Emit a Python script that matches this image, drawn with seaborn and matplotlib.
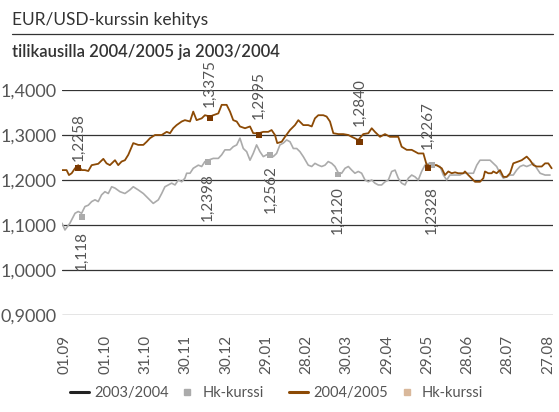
import matplotlib
matplotlib.use("Agg")
import matplotlib.pyplot as plt
from matplotlib.lines import Line2D
from matplotlib.ticker import FuncFormatter
import seaborn as sns
import pandas as pd

# ---------------- data ----------------
tick_days = [0, 30, 60, 90, 120, 150, 180, 210, 240, 270, 300, 330, 360]
tick_labels = ["01.09", "01.10", "31.10", "30.11", "30.12", "29.01", "28.02",
               "30.03", "29.04", "29.05", "28.06", "28.07", "27.08"]

# 2004/2005 EUR/USD
b_day = [-2.2, 1.2, 3.0, 5.0, 7.5, 9.9, 12.4, 14.9, 17.4, 19.9,
         24.8, 28.6, 31.0, 33.5, 37.3, 39.7, 42.2, 44.7, 47.2, 50.9,
         54.6, 58.4, 60.9, 63.4, 67.1, 72.1, 75.8, 78.3, 80.7, 83.2,
         87.0, 89.4, 93.2, 95.6, 98.1, 101.9, 104.3, 108.1, 110.5, 114.3,
         116.8, 120.5, 123.0, 125.4, 128.0, 130.4, 134.2, 137.9, 140.3, 144.6,
         147.8, 151.5, 154.0, 156.5, 158.2, 161.5, 164.0, 167.7, 171.4, 173.9,
         177.6, 181.3, 183.9, 186.3, 188.8, 192.5, 195.0, 197.5, 200.0, 203.7,
         207.4, 211.2, 213.7, 218.6, 222.3, 226.1, 228.6, 231.0, 234.8, 238.5,
         242.2, 246.0, 248.4, 250.9, 254.7, 258.4, 260.9, 263.3, 267.1, 269.6,
         272.0, 277.0, 280.8, 283.2, 285.7, 288.2, 290.7, 293.1, 296.9, 298.1,
         300.6, 305.6, 309.3, 311.8, 313.0, 315.5, 318.0, 319.2, 321.7, 324.2,
         326.7, 329.2, 331.7, 334.1, 337.8, 340.4, 344.1, 346.6, 349.1, 351.6,
         355.3, 357.8, 360.2, 362.7]
b_val = [1.222, 1.222, 1.211, 1.215, 1.226, 1.233, 1.222, 1.222, 1.220, 1.233,
         1.236, 1.247, 1.237, 1.233, 1.244, 1.233, 1.241, 1.244, 1.256, 1.282,
         1.278, 1.278, 1.285, 1.293, 1.300, 1.300, 1.307, 1.304, 1.315, 1.322,
         1.330, 1.333, 1.330, 1.352, 1.333, 1.337, 1.344, 1.341, 1.344, 1.348,
         1.367, 1.367, 1.352, 1.333, 1.330, 1.319, 1.315, 1.319, 1.304, 1.304,
         1.307, 1.307, 1.311, 1.300, 1.282, 1.285, 1.296, 1.311, 1.322, 1.333,
         1.322, 1.322, 1.319, 1.337, 1.344, 1.344, 1.341, 1.330, 1.304, 1.302,
         1.302, 1.300, 1.296, 1.289, 1.302, 1.304, 1.315, 1.307, 1.296, 1.302,
         1.296, 1.296, 1.296, 1.274, 1.267, 1.267, 1.263, 1.259, 1.259, 1.233,
         1.233, 1.233, 1.226, 1.211, 1.219, 1.215, 1.217, 1.215, 1.215, 1.219,
         1.211, 1.196, 1.196, 1.204, 1.219, 1.215, 1.215, 1.219, 1.215, 1.222,
         1.207, 1.207, 1.215, 1.237, 1.241, 1.244, 1.252, 1.244, 1.233, 1.230,
         1.230, 1.237, 1.237, 1.226]

# 2003/2004 EUR/USD
g_day = [-2.2, 0.0, 3.7, 7.5, 9.9, 12.4, 14.9, 17.4, 19.9, 22.4,
         24.8, 27.3, 29.8, 32.3, 34.8, 37.3, 41.0, 44.7, 48.4, 50.9,
         54.6, 58.4, 62.1, 65.8, 69.6, 72.1, 74.5, 77.0, 79.5, 82.0,
         84.5, 87.0, 89.4, 90.7, 93.2, 95.6, 99.4, 101.9, 104.3, 106.8,
         110.5, 114.3, 116.8, 119.2, 123.0, 125.4, 128.0, 130.4, 132.9, 135.4,
         137.9, 140.3, 142.8, 145.3, 147.8, 150.3, 152.8, 155.2, 157.7, 160.2,
         162.7, 165.2, 167.7, 170.2, 172.7, 175.1, 177.6, 181.3, 183.9, 186.3,
         188.8, 191.3, 193.8, 196.2, 198.8, 201.2, 203.7, 206.2, 208.7, 211.2,
         213.7, 216.1, 218.6, 221.1, 223.6, 226.1, 228.6, 231.0, 233.5, 236.0,
         238.5, 241.0, 243.5, 246.0, 248.4, 250.9, 253.4, 255.9, 258.4, 260.9,
         263.3, 265.8, 268.3, 270.8, 272.0, 275.8, 279.5, 282.0, 284.5, 286.9,
         290.7, 294.4, 296.9, 301.9, 304.4, 306.9, 309.3, 313.0, 316.8, 319.2,
         321.7, 324.2, 326.7, 329.2, 331.7, 334.1, 336.6, 339.1, 341.6, 344.1,
         346.6, 349.1, 351.6, 354.1, 357.8, 361.5]
g_val = [1.104, 1.089, 1.104, 1.126, 1.130, 1.126, 1.141, 1.144, 1.152, 1.156,
         1.152, 1.167, 1.174, 1.170, 1.185, 1.182, 1.174, 1.170, 1.178, 1.185,
         1.178, 1.170, 1.159, 1.148, 1.156, 1.170, 1.185, 1.189, 1.193, 1.189,
         1.200, 1.196, 1.204, 1.215, 1.215, 1.226, 1.233, 1.230, 1.241, 1.244,
         1.248, 1.248, 1.256, 1.267, 1.267, 1.274, 1.278, 1.293, 1.270, 1.263,
         1.244, 1.259, 1.278, 1.263, 1.252, 1.256, 1.259, 1.252, 1.259, 1.278,
         1.282, 1.289, 1.285, 1.270, 1.270, 1.263, 1.252, 1.233, 1.230, 1.237,
         1.233, 1.230, 1.233, 1.241, 1.237, 1.230, 1.216, 1.215, 1.226, 1.230,
         1.222, 1.215, 1.219, 1.215, 1.200, 1.196, 1.200, 1.193, 1.189, 1.189,
         1.196, 1.200, 1.219, 1.222, 1.204, 1.193, 1.189, 1.204, 1.211, 1.207,
         1.200, 1.219, 1.233, 1.237, 1.233, 1.233, 1.230, 1.211, 1.200, 1.211,
         1.211, 1.211, 1.215, 1.215, 1.215, 1.233, 1.244, 1.244, 1.244, 1.237,
         1.230, 1.215, 1.204, 1.207, 1.211, 1.211, 1.222, 1.230, 1.233, 1.230,
         1.233, 1.237, 1.226, 1.215, 1.211, 1.211]

# Hk-kurssi (closing rates) markers
bm_day = [9.9, 108.1, 144.6, 219.5, 270.5]
bm_val = [1.2258, 1.3375, 1.2995, 1.2840, 1.2267]
bm_lab = ["1,2258", "1,3375", "1,2995", "1,2840", "1,2267"]
gm_day = [12.7, 106.6, 153.0, 203.5, 273.5]
gm_val = [1.118, 1.2398, 1.2562, 1.2120, 1.2328]
gm_lab = ["1,118", "1,2398", "1,2562", "1,2120", "1,2328"]

# label offsets (pixels) for marker annotations
bm_off = [7, 11, 16, 16, 19]
gm_off = [14, 11, 10, 12, 21]

# ---------------- style ----------------
sns.set_style("white")
plt.rcParams["font.family"] = ["Lato", "DejaVu Sans"]

BROWN = "#8c4a05"
BROWN_DK = "#7a3800"
GRAY = "#ababab"
TAN = "#d9b89b"
TXT = "#555555"

fig = plt.figure(figsize=(5.59, 4.12), dpi=100)
W, H = 559, 412
ax = fig.add_axes([62 / W, 1 - 315 / H, (553 - 62) / W, (315 - 90) / H])

df_b = pd.DataFrame({"day": b_day, "val": b_val})
df_g = pd.DataFrame({"day": g_day, "val": g_val})

sns.lineplot(data=df_g, x="day", y="val", ax=ax, color=GRAY, lw=1.2,
             estimator=None, sort=False, zorder=3)
sns.lineplot(data=df_b, x="day", y="val", ax=ax, color=BROWN, lw=1.3,
             estimator=None, sort=False, zorder=4)
sns.scatterplot(x=gm_day, y=gm_val, ax=ax, marker="s", s=17, color=GRAY,
                edgecolor="none", zorder=5)
sns.scatterplot(x=bm_day, y=bm_val, ax=ax, marker="s", s=19, color=BROWN_DK,
                edgecolor="none", zorder=6)

for d, v, lab, o in zip(bm_day, bm_val, bm_lab, bm_off):
    ax.annotate(lab, (d, v), xytext=(0, o), textcoords="offset pixels",
                rotation=90, ha="center", va="bottom", fontsize=11,
                color=TXT, annotation_clip=False, zorder=7)
for d, v, lab, o in zip(gm_day, gm_val, gm_lab, gm_off):
    ax.annotate(lab, (d, v), xytext=(0, -o), textcoords="offset pixels",
                rotation=90, ha="center", va="top", fontsize=11,
                color=TXT, annotation_clip=False, zorder=7)

ax.set_xlim(-2.2, 363.7)
ax.set_ylim(0.9, 1.4)
ax.set_yticks([0.9, 1.0, 1.1, 1.2, 1.3, 1.4])
ax.yaxis.set_major_formatter(FuncFormatter(lambda v, p: f"{v:.4f}".replace(".", ",")))
ax.set_xticks(tick_days)
ax.set_xticklabels(tick_labels, rotation=90, va="top", ha="center")
ax.tick_params(axis="x", length=0, pad=14, labelsize=11, labelcolor=TXT)
ax.tick_params(axis="y", length=0, pad=4, labelsize=13, labelcolor=TXT)
ax.set_xlabel("")
ax.set_ylabel("")
ax.grid(axis="y", color="#333333", lw=0.9)
ax.grid(axis="x", visible=False)
for sp in ax.spines.values():
    sp.set_visible(False)
ax.set_axisbelow(True)

# titles
fig.text(12 / W, 1 - 20 / H, "EUR/USD-kurssin kehitys", fontsize=12.5,
         color="#333333", va="center", ha="left")
fig.add_artist(Line2D([12 / W, 553 / W], [1 - 34 / H, 1 - 34 / H],
                      color="#333333", lw=0.9))
fig.text(12 / W, 1 - 52 / H, "tilikausilla 2004/2005 ja 2003/2004", fontsize=12,
         color="#333333", va="center", ha="left", weight="semibold")

# legend (two groups)
h1 = [Line2D([], [], color="#222222", lw=2.2),
      Line2D([], [], color=GRAY, marker="s", ls="none", markersize=4.5)]
h2 = [Line2D([], [], color=BROWN, lw=2.2),
      Line2D([], [], color=TAN, marker="s", ls="none", markersize=4.5)]
kw = dict(loc="center", ncol=2, frameon=False, fontsize=10.5, handlelength=1.3,
          handletextpad=0.4, columnspacing=0.6, labelcolor=TXT)
fig.legend(h1, ["2003/2004", "Hk-kurssi"], bbox_to_anchor=(167 / W, 1 - 393 / H), **kw)
fig.legend(h2, ["2004/2005", "Hk-kurssi"], bbox_to_anchor=(386 / W, 1 - 393 / H), **kw)

fig.savefig("out.png", dpi=100)
